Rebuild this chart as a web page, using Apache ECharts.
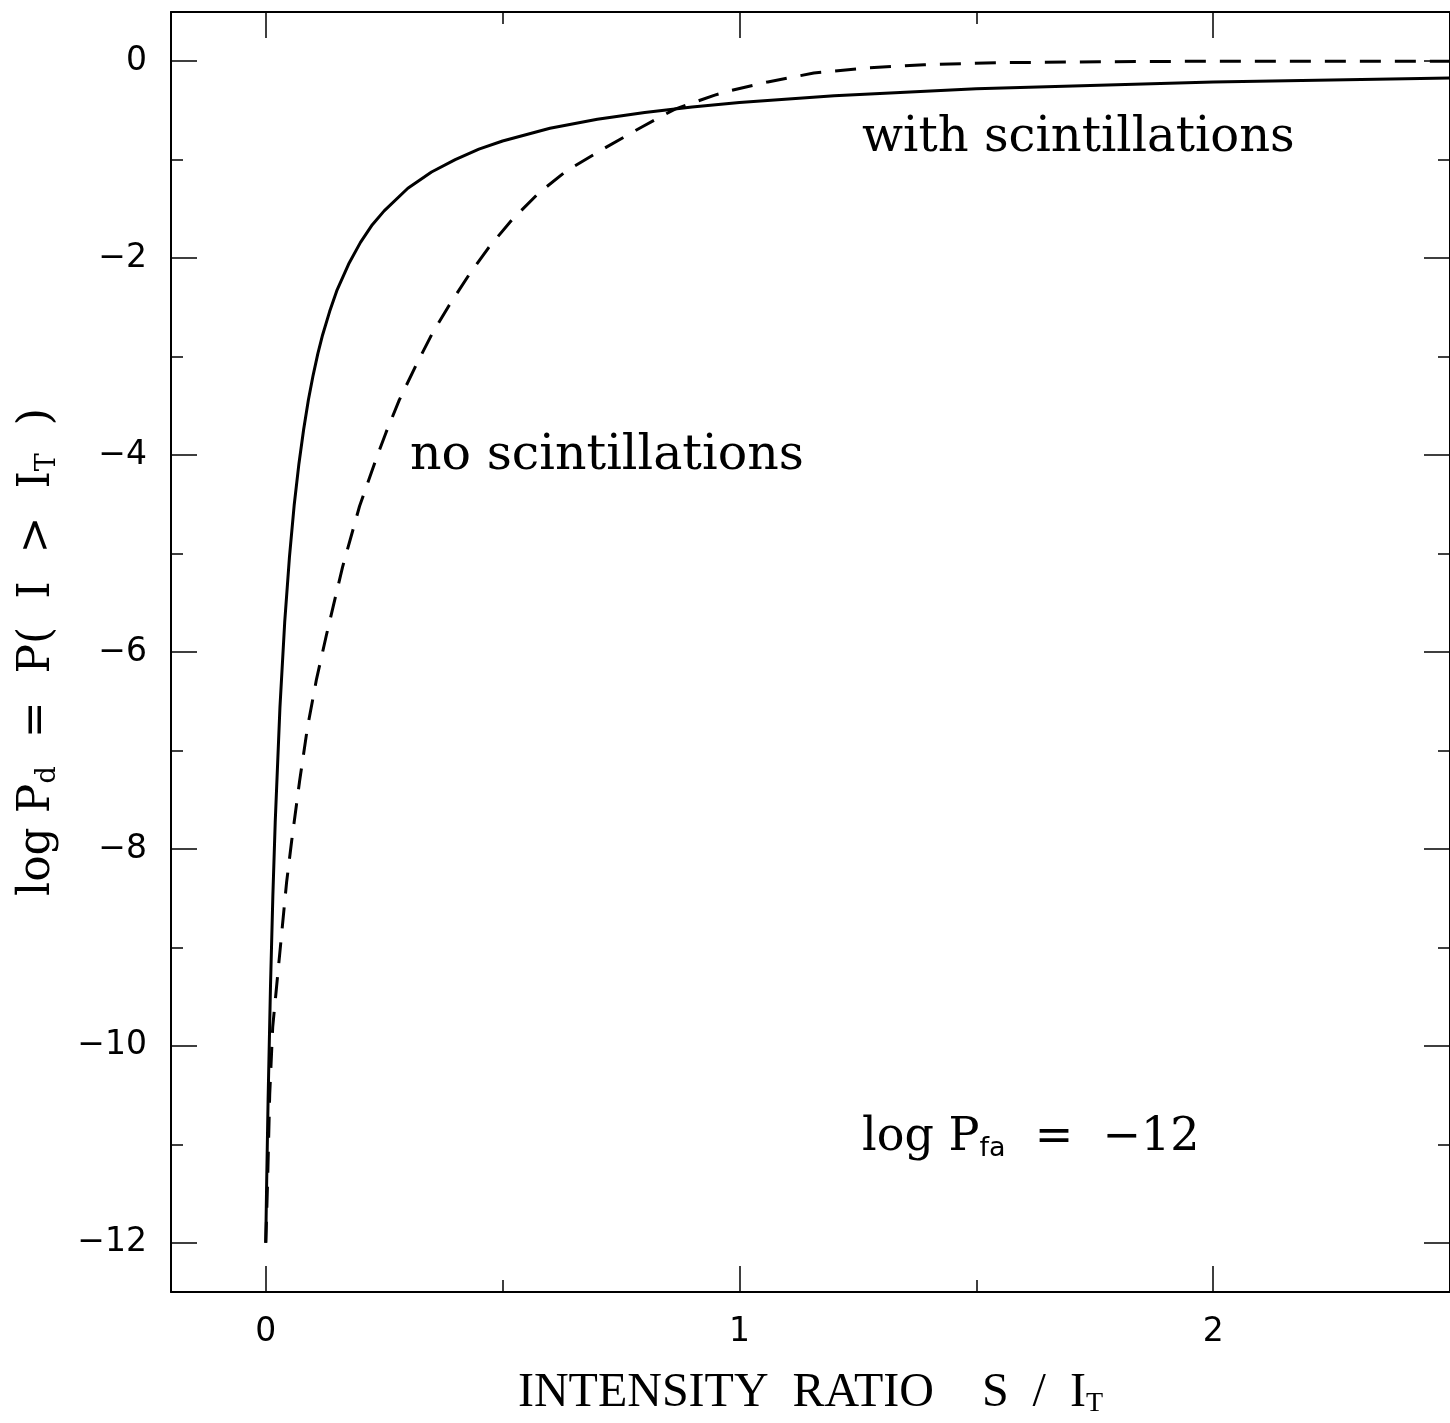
<!DOCTYPE html>
<html>
<head>
<meta charset="utf-8">
<script src="https://cdn.jsdelivr.net/npm/echarts@6/dist/echarts.min.js"></script>
<style>html,body{margin:0;padding:0;background:#fff;}#chart{width:1450px;height:1423px;}</style>
</head>
<body>
<div id="chart"></div>
<script>
// ---- data ----
const withScintX = [0, 0.002, 0.005, 0.01, 0.015, 0.02, 0.03, 0.04, 0.05, 0.06, 0.07, 0.08, 0.09, 0.1, 0.11, 0.12, 0.135, 0.15, 0.175, 0.2, 0.225, 0.25, 0.3, 0.35, 0.4, 0.45, 0.5, 0.6, 0.7, 0.8, 0.9, 1.0, 1.2, 1.5, 2.0, 2.5];
const withScintY = [-12, -11.37, -10.54, -9.40, -8.48, -7.73, -6.56, -5.70, -5.04, -4.51, -4.09, -3.74, -3.44, -3.19, -2.97, -2.78, -2.54, -2.33, -2.06, -1.84, -1.66, -1.52, -1.29, -1.125, -1.00, -0.893, -0.81, -0.68, -0.59, -0.52, -0.464, -0.42, -0.35, -0.28, -0.21, -0.17];
const noScintX = [0, 0.002, 0.0042, 0.0084, 0.0147, 0.0294, 0.044, 0.0547, 0.0715, 0.088, 0.107, 0.128, 0.162, 0.198, 0.233, 0.254, 0.282, 0.318, 0.351, 0.387, 0.429, 0.471, 0.52, 0.576, 0.633, 0.72, 0.793, 0.864, 0.948, 0.98, 1.06, 1.157, 1.264, 1.39, 1.55, 1.76, 2.0, 2.5];
const noScintY = [-12, -11.7, -11.33, -10.49, -9.81, -9.07, -8.34, -7.92, -7.31, -6.77, -6.28, -5.83, -5.14, -4.52, -4.04, -3.77, -3.44, -3.08, -2.77, -2.48, -2.17, -1.89, -1.61, -1.34, -1.12, -0.87, -0.67, -0.486, -0.344, -0.30, -0.21, -0.12, -0.07, -0.035, -0.015, -0.005, 0, 0];
const xMajorTicks = [0, 1, 2];
const xMinorTicks = [0.5, 1.5];
const yMajorTicks = [-12, -10, -8, -6, -4, -2, 0];
const yMinorTicks = [-11, -9, -7, -5, -3, -1];
const xRange = [-0.2, 2.5];
const yRange = [-12.5, 0.5];

const chart = echarts.init(document.getElementById('chart'), null, {renderer: 'canvas'});
const fmt = v => (v < 0 ? '\u2212' + Math.abs(v) : String(v));
const labelFont = {fontFamily: 'DejaVu Sans', fontSize: 33, color: '#000'};
const serif = 'DejaVu Serif';
const hiddenLine = {show: false, onZero: false};

function xAx(pos, ticks, len, labels, extra) {
  return Object.assign({
    type: 'value', position: pos, min: xRange[0], max: xRange[1],
    axisLine: {show: true, onZero: false, lineStyle: {color: '#000', width: 2}},
    axisTick: {show: true, inside: true, length: len, customValues: ticks, lineStyle: {color: '#000', width: 1.5}},
    axisLabel: labels ? Object.assign({show: true, customValues: ticks, formatter: fmt, margin: 24}, labelFont) : {show: false},
    splitLine: {show: false}
  }, extra || {});
}
function yAx(pos, ticks, len, labels, extra) {
  return Object.assign({
    type: 'value', position: pos, min: yRange[0], max: yRange[1],
    axisLine: {show: true, onZero: false, lineStyle: {color: '#000', width: 2}},
    axisTick: {show: true, inside: true, length: len, customValues: ticks, lineStyle: {color: '#000', width: 1.5}},
    axisLabel: labels ? Object.assign({show: true, customValues: ticks, formatter: fmt, margin: 24}, labelFont) : {show: false},
    splitLine: {show: false}
  }, extra || {});
}

const option = {
  backgroundColor: '#fff',
  animation: false,
  grid: {left: 171, top: 12, width: 1284, height: 1283, containLabel: false},
  xAxis: [
    xAx('bottom', xMajorTicks, 26, true, {
      name: 'INTENSITY  RATIO    S  /  I{sub|T}', nameLocation: 'middle', nameGap: 76,
      nameTextStyle: {fontFamily: 'Liberation Serif', fontSize: 48, color: '#000',
        rich: {sub: {fontFamily: 'Liberation Serif', fontSize: 28, color: '#000', padding: [22, 0, 0, 0]}}}
    }),
    xAx('bottom', xMinorTicks, 12, false, {axisLine: hiddenLine}),
    xAx('top', xMajorTicks, 26, false),
    xAx('top', xMinorTicks, 12, false, {axisLine: hiddenLine})
  ],
  yAxis: [
    yAx('left', yMajorTicks, 26, true, {
      name: 'log P{sub|d}  =  P(  I  >  I{sub|T}  )', nameLocation: 'middle', nameGap: 110,
      nameTextStyle: {fontFamily: serif, fontSize: 44, color: '#000',
        rich: {sub: {fontFamily: serif, fontSize: 27, color: '#000', padding: [20, 0, 0, 0]}}}
    }),
    yAx('left', yMinorTicks, 12, false, {axisLine: hiddenLine}),
    yAx('right', yMajorTicks, 26, false),
    yAx('right', yMinorTicks, 12, false, {axisLine: hiddenLine})
  ],
  series: [
    {
      name: 'with scintillations', type: 'line', xAxisIndex: 0, yAxisIndex: 0,
      showSymbol: false, smooth: false,
      lineStyle: {color: '#000', width: 3},
      data: withScintX.map((x, i) => [x, withScintY[i]])
    },
    {
      name: 'no scintillations', type: 'line', xAxisIndex: 0, yAxisIndex: 0,
      showSymbol: false, smooth: false,
      lineStyle: {color: '#000', width: 3, type: [21, 14]},
      data: noScintX.map((x, i) => [x, noScintY[i]])
    }
  ],
  graphic: [
    {type: 'text', left: 862, top: 115, style: {text: 'with scintillations', font: '48px "DejaVu Serif"', fill: '#000'}},
    {type: 'text', left: 410, top: 432, style: {text: 'no scintillations', font: '49px "DejaVu Serif"', fill: '#000'}},
    {type: 'text', left: 862, top: 1115, style: {
      text: 'log P{sub|fa}  =  \u221212', font: '46px "DejaVu Serif"', fill: '#000',
      rich: {sub: {font: '27px "DejaVu Sans"', fill: '#000', padding: [22, 0, 0, 0]}}}}
  ]
};
chart.setOption(option);
</script>
</body>
</html>
